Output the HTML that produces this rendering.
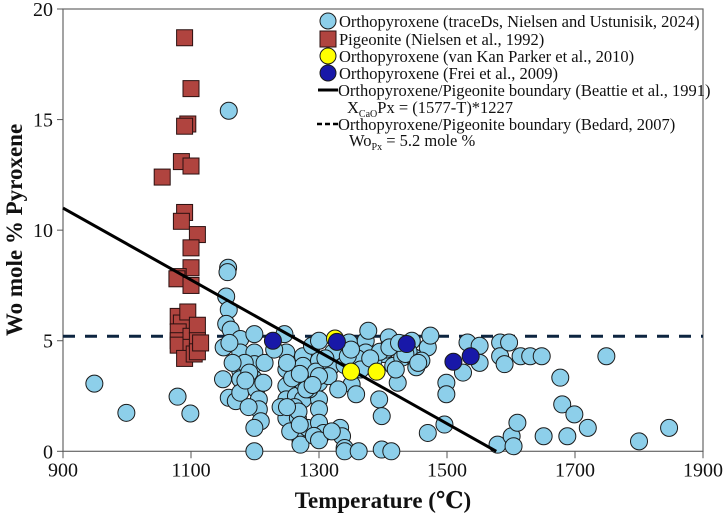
<!DOCTYPE html>
<html><head><meta charset="utf-8"><style>
body{margin:0;background:#fff;width:726px;height:517px;overflow:hidden}
svg, svg text{font-family:"Liberation Serif","Times New Roman","DejaVu Serif",serif}
</style></head><body>
<svg id="chart" width="726" height="517" xmlns="http://www.w3.org/2000/svg" font-family="'Liberation Serif', 'Times New Roman', serif"></svg>
<script>
const xTicks=[900,1100,1300,1500,1700,1900];
const yTicks=[0,5,10,15,20];
const opxT=[949,999,1079,1099,1159,1158,1157,1155,1159,1155,1162,1151,1150,1159,1170,1177,1177,1177,1177,1177,1199,1199,1199,1199,1202,1206,1206,1209,1199,1199,1184,1191,1213,1246,1249,1249,1249,1249,1249,1264,1267,1271,1271,1275,1275,1275,1275,1282,1289,1300,1300,1300,1300,1300,1300,1307,1318,1322,1333,1336,1340,1340,1347,1351,1358,1362,1373,1377,1373,1380,1394,1398,1398,1413,1409,1401,1416,1423,1430,1445,1449,1452,1470,1474,1470,1496,1499,1499,1525,1532,1551,1551,1579,1583,1583,1590,1597,1601,1604,1610,1615,1630,1648,1651,1677,1680,1688,1699,1720,1749,1800,1847,1165,1185,1215,1230,1258,1262,1285,1295,1310,1340,1360,1385,1405,1420,1440,1460,1255,1268,1292,1315,1345,1365,1395,1435,1160,1190,1240,1280,1300,1330,1250,1250,1270,1270,1290,1300,1320,1350,1380,1410,1425,1455];
const opxWo=[3.06,1.74,2.47,1.71,15.4,8.3,8.1,7.0,6.4,5.76,5.5,4.7,3.26,2.42,2.27,5.08,4.47,3.64,3.26,2.65,5.3,4.47,3.94,3.26,2.8,2.35,1.9,1.36,1.06,0,4.0,3.56,3.1,5.3,4.47,3.7,2.95,2.35,1.5,2.5,1.5,0.53,0.3,4.3,3.86,3.1,2.35,1.06,4.77,5.0,4.1,3.1,2.35,1.9,1.29,0.83,3.8,4.47,1.06,0.68,0.15,0,4.92,3.03,2.58,0,5.0,5.45,4.47,3.86,2.35,1.59,0.08,0,5.15,4.4,3.86,3.1,4.24,5.0,4.24,3.8,4.7,5.23,0.83,1.21,3.1,2.58,3.56,4.92,4.77,4.0,0.3,4.92,4.3,3.94,4.92,0.68,0.23,1.29,4.3,4.3,4.3,0.68,3.33,2.12,0.68,1.67,1.06,4.3,0.45,1.06,4.0,3.2,4.0,4.6,3.3,2.0,2.8,3.6,4.2,3.9,4.2,4.1,4.6,3.7,4.5,4.1,0.9,1.8,0.7,3.4,4.3,3.7,4.5,4.4,4.9,2.0,2.0,2.8,3.4,2.8,4.0,2.0,3.5,1.2,3.0,0.5,0.9,4.6,4.2,4.7,4.9,4.0];
const pigT=[1090,1100,1095,1090,1085,1100,1055,1090,1085,1110,1100,1100,1080,1078,1100,1080,1085,1080,1080,1080,1095,1100,1100,1090,1105,1110,1110,1110,1115];
const pigWo=[18.7,16.4,14.8,14.7,13.1,12.9,12.4,10.8,10.4,9.8,9.2,8.3,7.9,7.8,7.5,6.1,5.8,5.4,5.0,4.8,6.3,5.2,4.7,4.2,4.4,5.7,5.0,4.5,4.9];
const vkT=[1325,1350,1390];
const vkWo=[5.1,3.6,3.6];
const freiT=[1228,1328,1437,1510,1537];
const freiWo=[5.0,4.95,4.85,4.05,4.3];
const beattieT=[900,1577];
const beattieWo=[11.0,0];
const bedardWo=5.2;

const L=63,R=703,T0=9,B=451.3;
const xs=v=>L+(v-900)/1000*(R-L);
const ys=v=>B-v/20*(B-T0);
const svg=document.getElementById('chart');
const NS='http://www.w3.org/2000/svg';
function mk(tag,attrs,parent){const e=document.createElementNS(NS,tag);for(const k in attrs)e.setAttribute(k,attrs[k]);(parent||svg).appendChild(e);return e;}

const frame=mk('rect',{x:L,y:T0,width:R-L,height:B-T0,fill:'none',stroke:'#666','stroke-width':1.2});



xTicks.forEach(t=>{
  const l=mk('line',{x1:xs(t),x2:xs(t),y1:B,y2:B+7,stroke:'#555','stroke-width':1});
  
  
  const tx=mk('text',{x:xs(t),y:B+25,'font-size':20,'text-anchor':'middle',fill:'#111'});
  tx.textContent=t;
  
  
});
yTicks.forEach(t=>{
  const l=mk('line',{x1:L-6,x2:L,y1:ys(t),y2:ys(t),stroke:'#555','stroke-width':1});
  
  
  const tx=mk('text',{x:L-10,y:ys(t)+7,'font-size':20,'text-anchor':'end',fill:'#111'});
  tx.textContent=t;
  
  
});

const dash=mk('line',{x1:L,x2:R,y1:ys(bedardWo),y2:ys(bedardWo),stroke:'#0d2540','stroke-width':3,'stroke-dasharray':'12,10'});



function circles(Ts,Ws,fill,name){
  Ts.forEach((t,i)=>{
    const c=mk('circle',{cx:xs(t),cy:ys(Ws[i]),r:8.5,fill:fill,stroke:'#1a1a1a','stroke-width':1});
    
    
  });
}
circles(opxT,opxWo,'#8dcfea','opx-tracedb-point');
pigT.forEach((t,i)=>{
  const s=mk('rect',{x:xs(t)-8,y:ys(pigWo[i])-8,width:16,height:16,fill:'#b0443f',stroke:'#2a1010','stroke-width':1});
  
  
});
const bl=mk('line',{x1:xs(beattieT[0]),y1:ys(beattieWo[0]),x2:xs(beattieT[1]),y2:ys(beattieWo[1]),stroke:'#000','stroke-width':3});


circles(vkT,vkWo,'#ffff00','opx-vankan-point');
circles(freiT,freiWo,'#1818a8','opx-frei-point');

const lg=mk('g',{});


const rows=[
 {y:21,type:'c',fill:'#8dcfea',text:'Orthopyroxene (traceDs, Nielsen and Ustunisik, 2024)'},
 {y:39,type:'s',fill:'#b0443f',text:'Pigeonite (Nielsen et al., 1992)'},
 {y:56,type:'c',fill:'#ffff00',text:'Orthopyroxene (van Kan Parker et al., 2010)'},
 {y:73,type:'c',fill:'#1818a8',text:'Orthopyroxene (Frei et al., 2009)'},
 {y:90,type:'l',text:'Orthopyroxene/Pigeonite boundary (Beattie et al., 1991)'},
 {y:124,type:'d',text:'Orthopyroxene/Pigeonite boundary (Bedard, 2007)'}];
rows.forEach(r=>{
  const g=mk('g',{},lg);
  
  
  if(r.type==='c')mk('circle',{cx:328,cy:r.y,r:8,fill:r.fill,stroke:'#1a1a1a'},g);
  if(r.type==='s')mk('rect',{x:320,y:r.y-8,width:16,height:16,fill:r.fill,stroke:'#2a1010'},g);
  if(r.type==='l')mk('line',{x1:318,x2:338,y1:r.y,y2:r.y,stroke:'#000','stroke-width':3},g);
  if(r.type==='d')mk('line',{x1:317,x2:338,y1:r.y,y2:r.y,stroke:'#000','stroke-width':2.5,'stroke-dasharray':'5,3'},g);
  const t=mk('text',{x:r.type==='l'||r.type==='d'?338:339,y:r.y+6,'font-size':16.5,fill:'#111'},g);
  t.textContent=r.text;
});
const f1=mk('text',{x:347,y:113,'font-size':16.5,fill:'#111'},lg);
f1.innerHTML='X<tspan font-size="10" dy="4">CaO</tspan><tspan dy="-4">Px = (1577-T)*1227</tspan>';


const f2=mk('text',{x:349,y:146,'font-size':16.5,fill:'#111'},lg);
f2.innerHTML='Wo<tspan font-size="10" dy="4">Px</tspan><tspan dy="-4"> = 5.2 mole %</tspan>';



const xt=mk('text',{x:383,y:508,'font-size':23,'font-weight':'bold','text-anchor':'middle',fill:'#111'});
xt.textContent='Temperature (℃)';


const yt=mk('text',{x:0,y:0,'font-size':23,'font-weight':'bold','text-anchor':'middle',fill:'#111',transform:'translate(22,230) rotate(-90)'});
yt.textContent='Wo mole % Pyroxene';


</script>
</body></html>
